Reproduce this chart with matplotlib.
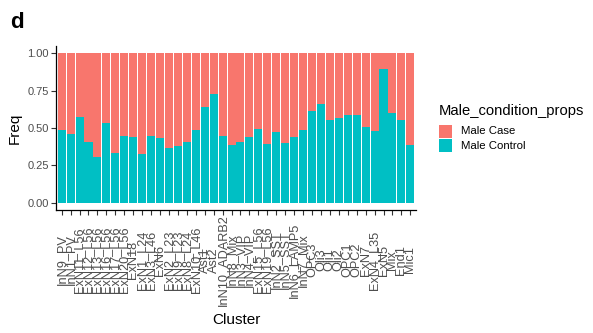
import matplotlib
matplotlib.use("Agg")
import matplotlib.pyplot as plt
import numpy as np
from matplotlib.patches import Rectangle

plt.rcParams['font.family'] = ['Liberation Sans', 'DejaVu Sans']

clusters = ["InN9_PV", "InN1_PV", "ExN11_L56", "ExN12_L56", "ExN13_L56", "ExN16_L56",
            "ExN17_L56", "ExN20_L56", "ExN18", "ExN1_L24", "ExN3_L46", "ExN6",
            "ExN2_L23", "ExN9_L23", "ExN8_L24", "ExN10_L46", "Ast1", "Ast2",
            "InN10_ADARB2", "InN8_Mix", "InN3_VIP", "InN4_VIP", "ExN15_L56", "ExN19_L56",
            "InN2_SST", "InN5_SST", "InN6_LAMP5", "InN7_Mix", "OPC3", "Oli3",
            "Oli1", "Oli2", "OPC1", "OPC2", "ExN7", "ExN4_L35", "ExN5", "Mix", "End1", "Mic1"]

male_control = [0.487, 0.462, 0.571, 0.408, 0.306, 0.531, 0.335, 0.449, 0.442, 0.326,
                0.449, 0.433, 0.368, 0.379, 0.408, 0.487, 0.643, 0.725, 0.444, 0.384,
                0.408, 0.437, 0.491, 0.395, 0.475, 0.397, 0.437, 0.484, 0.614, 0.658,
                0.551, 0.569, 0.585, 0.585, 0.507, 0.480, 0.895, 0.598, 0.554, 0.384]
male_case = [1 - v for v in male_control]

series_names = ["Male Case", "Male Control"]
colors = ["#F8766D", "#00BFC4"]
legend_title = "Male_condition_props"

W, H = 593, 333
fig = plt.figure(figsize=(W / 100, H / 100), dpi=100)
ax_bottom, ax_top = 210.2, 45.9
ax = fig.add_axes([56.3 / W, (H - ax_bottom) / H, (415.7 - 56.3) / W, (ax_bottom - ax_top) / H])

x = np.arange(len(clusters))
ax.bar(x, male_control, width=0.9, color=colors[1], linewidth=0)
ax.bar(x, male_case, bottom=male_control, width=0.9, color=colors[0], linewidth=0)

ax.set_xlim(-0.6, len(clusters) - 0.4)
ax.set_ylim(-0.05, 1.05)
ax.set_yticks([0, 0.25, 0.5, 0.75, 1.0])
ax.set_yticklabels(["0.00", "0.25", "0.50", "0.75", "1.00"], fontsize=8, color="#4d4d4d")
ax.set_xticks(x)
ax.set_xticklabels(clusters, rotation=90, fontsize=9.2, color="#4d4d4d", va="center")
ax.tick_params(axis='both', length=3.5, width=0.8, color="#333333", pad=2)
# centre the rotated labels ~50 px below the axis line
ax.tick_params(axis='x', pad=(260 - ax_bottom) * 0.72 - 3.5)
for s in ["top", "right"]:
    ax.spines[s].set_visible(False)
for s in ["left", "bottom"]:
    ax.spines[s].set_linewidth(0.9)
    ax.spines[s].set_color("black")

ax.set_ylabel("Freq", fontsize=11, labelpad=4)
ax.set_xlabel("Cluster", fontsize=11)
ax.xaxis.set_label_coords(0.5, -(320 - ax_bottom) / (ax_bottom - ax_top))
ax.xaxis.label.set_verticalalignment("center")

# legend drawn in figure pixel space
def fy(py):
    return (H - py) / H

fig.text(439 / W, fy(111), legend_title, fontsize=10.6, va="center", ha="left")
key_tops = [125, 139.5]
for name, c, top in zip(series_names, colors, key_tops):
    fig.patches.append(Rectangle((439 / W, fy(top + 13)), 13 / W, 13 / H,
                                 transform=fig.transFigure, facecolor=c, edgecolor="none"))
    fig.text(461 / W, fy(top + 6.5), name, fontsize=8.2, va="center", ha="left")

fig.text(10 / W, fy(22), "d", fontsize=16, fontweight="bold", va="center")

fig.savefig("out.png", dpi=100)
